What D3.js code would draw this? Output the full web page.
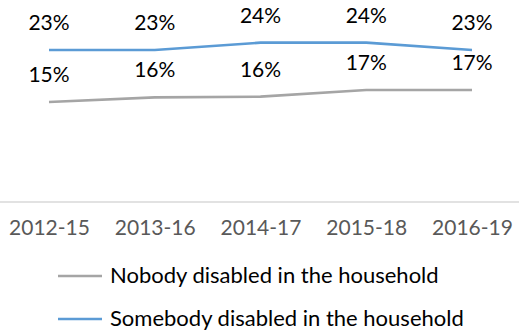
<!DOCTYPE html>
<html>
<head>
<meta charset="utf-8">
<script src="https://cdn.jsdelivr.net/npm/d3@7"></script>
<style>
  html, body { margin: 0; padding: 0; background: #fff; }
  svg { display: block; font-family: Lato, "Open Sans", sans-serif; }
</style>
</head>
<body>
<svg id="chart" width="519" height="331"></svg>
<script>
const categories = ["2012-15", "2013-16", "2014-17", "2015-18", "2016-19"];
const nobodyValues = [15.0, 15.7, 15.8, 16.8, 16.8];
const somebodyValues = [22.8, 22.8, 23.9, 23.9, 22.8];
const nobodyLabels = ["15%", "16%", "16%", "17%", "17%"];
const somebodyLabels = ["23%", "23%", "24%", "24%", "23%"];
const seriesNames = ["Nobody disabled in the household", "Somebody disabled in the household"];
const seriesColors = ["#a5a5a5", "#5b9bd5"];

const series = [
  { name: seriesNames[0], values: nobodyValues, labels: nobodyLabels, color: seriesColors[0] },
  { name: seriesNames[1], values: somebodyValues, labels: somebodyLabels, color: seriesColors[1] }
];

const svg = d3.select("#chart");
const W = 519;

const x = d3.scalePoint().domain(categories).range([49, 472]).padding(0);
const y = d3.scaleLinear().domain([0, 30]).range([202, 2]);

// x axis baseline
svg.append("line")
  .attr("x1", 0).attr("x2", W)
  .attr("y1", y(0)).attr("y2", y(0))
  .attr("stroke", "#d9d9d9").attr("stroke-width", 1.5);

// tick labels
const xAxis = d3.axisBottom(x).tickSize(0).tickPadding(0);
const gx = svg.append("g").attr("transform", `translate(0,${y(0)})`).call(xAxis);
gx.select(".domain").remove();
gx.selectAll("text")
  .attr("dy", null)
  .attr("y", 33)
  .attr("fill", "#595959")
  .style("font-size", "21px")
  .style("font-family", "Lato, sans-serif");

const line = d3.line().x((d, i) => x(categories[i])).y(d => y(d));

series.forEach(s => {
  svg.append("path")
    .datum(s.values)
    .attr("d", line)
    .attr("fill", "none")
    .attr("stroke", s.color)
    .attr("stroke-width", 2.6);

  svg.append("g").selectAll("text")
    .data(s.values)
    .join("text")
    .attr("x", (d, i) => x(categories[i]))
    .attr("y", d => y(d) - 20)
    .attr("text-anchor", "middle")
    .attr("fill", "#000")
    .style("font-size", "21px")
    .text((d, i) => s.labels[i]);
});

// legend
const legend = svg.append("g");
const legendY = [276, 319];
series.forEach((s, i) => {
  legend.append("line")
    .attr("x1", 58).attr("x2", 102)
    .attr("y1", legendY[i]).attr("y2", legendY[i])
    .attr("stroke", s.color).attr("stroke-width", 2.6);
  legend.append("text")
    .attr("x", 110)
    .attr("y", legendY[i] + 7)
    .attr("fill", "#000")
    .style("font-size", "22px")
    .text(s.name);
});
</script>
</body>
</html>
